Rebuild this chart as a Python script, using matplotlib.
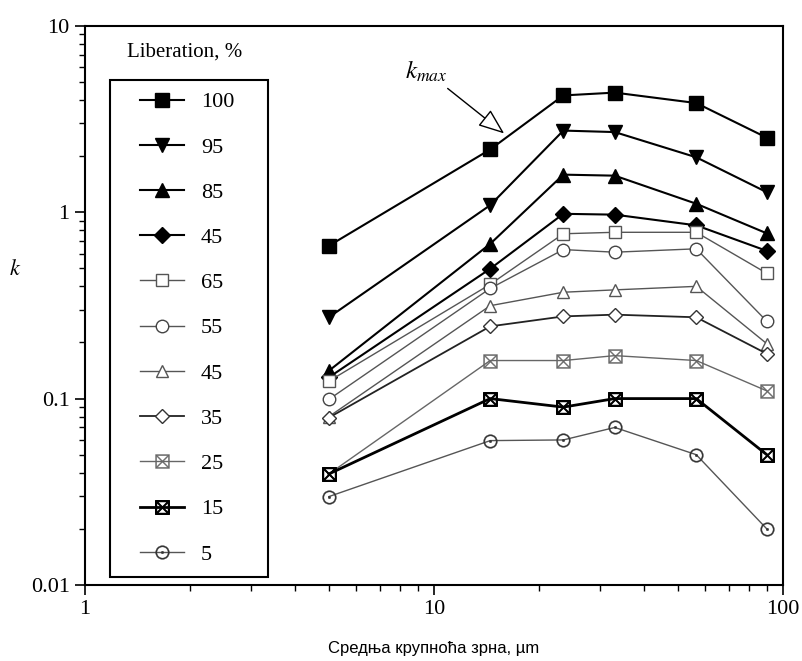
import matplotlib
matplotlib.use('Agg')
import matplotlib.pyplot as plt
from matplotlib.patches import Rectangle

plt.rcParams['font.family'] = ['Liberation Serif', 'DejaVu Serif']
plt.rcParams['mathtext.fontset'] = 'stix'

# mean grain size, um
size_um = [5, 14.5, 23.5, 33, 56.5, 90]

labels = ['100', '95', '85', '45', '65', '55', '45', '35', '25', '15', '5']
k100 = [0.66, 2.17, 4.23, 4.38, 3.85, 2.51]
k95 = [0.273, 1.09, 2.74, 2.69, 1.97, 1.28]
k85 = [0.141, 0.676, 1.59, 1.57, 1.11, 0.77]
k45f = [0.13, 0.497, 0.98, 0.97, 0.85, 0.62]
k65 = [0.124, 0.41, 0.766, 0.78, 0.78, 0.47]
k55 = [0.099, 0.39, 0.63, 0.61, 0.636, 0.26]
k45o = [0.08, 0.315, 0.372, 0.383, 0.40, 0.197]
k35 = [0.079, 0.244, 0.276, 0.282, 0.273, 0.174]
k25 = [0.0394, 0.16, 0.16, 0.17, 0.16, 0.11]
k15 = [0.0394, 0.10, 0.09, 0.10, 0.10, 0.05]
k5 = [0.0298, 0.0595, 0.06, 0.07, 0.05, 0.02]
series = [k100, k95, k85, k45f, k65, k55, k45o, k35, k25, k15, k5]

# marker, markersize, facecolor, edgecolor, edge width, line colour, line width
styles = [
    ('s', 10, 'black', 'black', 1.0, 'black', 1.5),
    ('v', 10, 'black', 'black', 1.0, 'black', 1.5),
    ('^', 10, 'black', 'black', 1.0, 'black', 1.5),
    ('D', 8, 'black', 'black', 1.0, 'black', 1.5),
    ('s', 9, 'white', '#555555', 1.0, '#555555', 1.0),
    ('o', 9, 'white', '#444444', 1.0, '#555555', 1.0),
    ('^', 9, 'white', '#555555', 1.0, '#555555', 1.0),
    ('D', 7, 'white', '#333333', 1.0, '#222222', 1.3),
    (r'$\boxtimes$', 10, '#666666', '#666666', 0.3, '#666666', 1.0),
    (r'$\boxtimes$', 10, 'black', 'black', 0.8, 'black', 2.0),
    (r'$\odot$', 10, '#333333', '#333333', 0.2, '#555555', 1.0),
]

fig = plt.figure(figsize=(8.02, 6.61), dpi=100)
ax = fig.add_axes([0.106, 0.115, 0.870, 0.846])

for vals, lab, (m, ms, fc, ec, mew, lc, lw) in zip(series, labels, styles):
    ax.plot(size_um, vals, color=lc, lw=lw, marker=m, ms=ms,
            markerfacecolor=fc, markeredgecolor=ec, markeredgewidth=mew,
            label=lab)

ax.set_xscale('log')
ax.set_yscale('log')
ax.set_xlim(1, 100)
ax.set_ylim(0.01, 10)
ax.set_xticks([1, 10, 100])
ax.set_xticklabels(['1', '10', '100'])
ax.set_yticks([0.01, 0.1, 1, 10])
ax.set_yticklabels(['0.01', '0.1', '1', '10'])
ax.tick_params(which='major', direction='out', length=7, width=1.2, labelsize=16, pad=4)
ax.tick_params(which='minor', direction='out', length=4, width=1.0)
for sp in ax.spines.values():
    sp.set_linewidth(1.5)

ax.set_xlabel('Средња крупноћа зрна, µm', family=['Liberation Sans', 'DejaVu Sans'],
              fontsize=12, labelpad=16)
ax.set_ylabel('$k$', fontsize=16, rotation=0)
ax.yaxis.set_label_coords(-0.1, 0.546)

# legend with its own box and title above
ax.add_patch(Rectangle((0.0358, 0.0143), 0.2264, 0.8887, transform=ax.transAxes,
                       fill=False, edgecolor='black', lw=1.5, zorder=3))
ax.text(0.143, 0.953, 'Liberation, %', transform=ax.transAxes, ha='center',
        va='center', fontsize=15)
ax.legend(loc='upper left', bbox_to_anchor=(0.0788, 0.882), frameon=False,
          fontsize=16, borderpad=0, borderaxespad=0, handlelength=2.0,
          handletextpad=0.75, labelspacing=1.11)

ax.annotate('$k_{max}$', xy=(15.9, 2.645), xytext=(9.5, 5.7), fontsize=18,
            ha='center', va='center',
            arrowprops=dict(arrowstyle='-|>,head_length=0.9,head_width=0.35',
                            mutation_scale=18, facecolor='white',
                            edgecolor='black', lw=1.0, shrinkA=2, shrinkB=0))

fig.savefig('out.png', dpi=100)
